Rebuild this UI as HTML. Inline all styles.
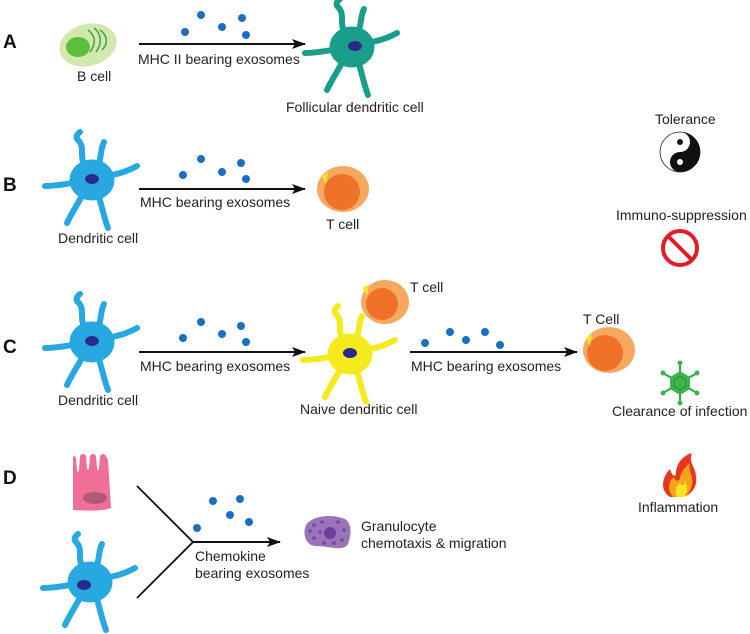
<!DOCTYPE html>
<html><head><meta charset="utf-8"><style>
html,body{margin:0;padding:0;background:#fff}
svg{display:block}
text{font-family:"Liberation Sans",sans-serif;font-size:14px;fill:#222}
.L{font-size:19px;font-weight:bold;fill:#111}
</style></head><body>
<svg width="750" height="634" viewBox="0 0 750 634" xmlns="http://www.w3.org/2000/svg">
<defs>
<marker id="ah" markerWidth="14" markerHeight="10" refX="13" refY="5" orient="auto" markerUnits="userSpaceOnUse"><path d="M0,0 L14,5 L0,10 L3,5 Z" fill="#111"/></marker>
<g id="dc">
<g fill="none" stroke-width="6" stroke-linecap="round" stroke-linejoin="round">
<path d="M-6,-10 C-14,-22 -6,-30 -14,-38 C-18,-42 -12,-46 -12,-46"/>
<path d="M6,-12 C10,-22 8,-28 12,-36"/>
<path d="M14,-2 C26,-4 34,-6 45,-12"/>
<path d="M-14,4 C-26,6 -36,8 -47,8"/>
<path d="M-8,14 C-14,26 -20,34 -25,45"/>
<path d="M6,16 C10,28 12,40 16,50"/>
</g>
<ellipse cx="0" cy="2" rx="22" ry="20"/>
</g>
</defs>

<!-- A -->
<text class="L" x="3" y="48">A</text>
<ellipse cx="88" cy="45" rx="29" ry="21" fill="#d3e8ae" transform="rotate(-15 88 45)"/>
<ellipse cx="78" cy="47" rx="12" ry="10" fill="#5cbf3c"/>
<g fill="none" stroke="#3aa640" stroke-width="1.5">
<path d="M88,30 C96,36 96,44 90,52"/><path d="M94,28 C102,34 102,44 96,52"/><path d="M100,30 C108,36 108,44 102,50"/>
</g>
<text x="77" y="81">B cell</text>
<line x1="139" y1="44" x2="305" y2="44" stroke="#111" stroke-width="2" marker-end="url(#ah)"/>
<g fill="#1a6fc0"><circle cx="201" cy="15" r="4"/><circle cx="185" cy="32" r="4"/><circle cx="222" cy="27" r="4"/><circle cx="242" cy="18" r="4"/><circle cx="246" cy="35" r="4"/></g>
<text x="138" y="64">MHC II bearing exosomes</text>
<use href="#dc" x="352" y="45" fill="#1a9e8c" stroke="#1a9e8c"/>
<ellipse cx="355" cy="46" rx="7" ry="5" fill="#2a2a8c"/>
<text x="286" y="112">Follicular dendritic cell</text>

<!-- B -->
<text class="L" x="3" y="191">B</text>
<use href="#dc" x="92" y="178" fill="#27a8e0" stroke="#27a8e0"/>
<ellipse cx="92" cy="179" rx="7" ry="5" fill="#2a2a8c"/>
<text x="58" y="243">Dendritic cell</text>
<line x1="139" y1="189" x2="305" y2="189" stroke="#111" stroke-width="2" marker-end="url(#ah)"/>
<g fill="#1a6fc0"><circle cx="201" cy="159" r="4"/><circle cx="183" cy="175" r="4"/><circle cx="222" cy="172" r="4"/><circle cx="241" cy="163" r="4"/><circle cx="246" cy="179" r="4"/></g>
<text x="140" y="207">MHC bearing exosomes</text>
<ellipse cx="343" cy="189" rx="26" ry="23" fill="#f6a85f"/>
<circle cx="342" cy="192" r="18" fill="#f07228"/>
<path d="M322,176 L328,172 L326,184 Z" fill="#f8e71c"/>
<text x="326" y="229">T cell</text>

<!-- C -->
<text class="L" x="3" y="353">C</text>
<use href="#dc" x="92" y="340" fill="#27a8e0" stroke="#27a8e0"/>
<ellipse cx="92" cy="341" rx="7" ry="5" fill="#2a2a8c"/>
<text x="58" y="405">Dendritic cell</text>
<line x1="139" y1="352" x2="305" y2="352" stroke="#111" stroke-width="2" marker-end="url(#ah)"/>
<g fill="#1a6fc0"><circle cx="201" cy="322" r="4"/><circle cx="183" cy="338" r="4"/><circle cx="222" cy="334" r="4"/><circle cx="241" cy="326" r="4"/><circle cx="246" cy="342" r="4"/></g>
<text x="140" y="371">MHC bearing exosomes</text>
<use href="#dc" x="350" y="352" fill="#f5ea1b" stroke="#f5ea1b"/>
<ellipse cx="350" cy="353" rx="7" ry="5" fill="#2a2a8c"/>
<text x="300" y="414">Naive dendritic cell</text>
<ellipse cx="385" cy="302" rx="24" ry="22" fill="#f6a85f"/>
<circle cx="382" cy="304" r="16" fill="#f07228"/>
<path d="M363,288 L369,284 L367,296 Z" fill="#f8e71c"/>
<text x="410" y="292">T cell</text>
<line x1="410" y1="352" x2="577" y2="352" stroke="#111" stroke-width="2" marker-end="url(#ah)"/>
<g fill="#1a6fc0"><circle cx="425" cy="343" r="4"/><circle cx="450" cy="332" r="4"/><circle cx="466" cy="340" r="4"/><circle cx="485" cy="332" r="4"/><circle cx="500" cy="345" r="4"/></g>
<text x="411" y="371">MHC bearing exosomes</text>
<ellipse cx="609" cy="350" rx="26" ry="23" fill="#f6a85f"/>
<circle cx="605" cy="353" r="18" fill="#f07228"/>
<path d="M586,338 L592,334 L590,346 Z" fill="#f8e71c"/>
<text x="583" y="324">T Cell</text>

<!-- right column -->
<text x="655" y="124">Tolerance</text>
<g transform="translate(680,152)">
<circle r="20" fill="#fff" stroke="#222" stroke-width="0.8"/>
<path d="M0,-20 A20,20 0 0 1 0,20 A10,10 0 0 1 0,0 A10,10 0 0 0 0,-20 Z" fill="#111"/>
<circle cx="0" cy="-10" r="3" fill="#111"/><circle cx="0" cy="10" r="3" fill="#fff"/>
</g>
<text x="616" y="220">Immuno-suppression</text>
<g transform="translate(680,248)"><circle r="17" fill="none" stroke="#e21d25" stroke-width="4"/><line x1="-12" y1="-12" x2="12" y2="12" stroke="#e21d25" stroke-width="4"/></g>
<g transform="translate(680,383)" stroke="#2aa84a" stroke-width="2" fill="#3cb54a">
<line x1="0" y1="-20" x2="0" y2="20"/><line x1="-17" y1="-10" x2="17" y2="10"/><line x1="-17" y1="10" x2="17" y2="-10"/>
<polygon points="0,-12 10,-6 10,6 0,12 -10,6 -10,-6" stroke="none"/>
<polygon points="0,-7 6,-3.5 6,3.5 0,7 -6,3.5 -6,-3.5" fill="none" stroke="#1d8a3a" stroke-width="1"/>
<g stroke="none" fill="#3cb54a"><circle cx="0" cy="-20" r="2.5"/><circle cx="0" cy="20" r="2.5"/><circle cx="-17" cy="-10" r="2.5"/><circle cx="17" cy="10" r="2.5"/><circle cx="-17" cy="10" r="2.5"/><circle cx="17" cy="-10" r="2.5"/></g>
</g>
<text x="612" y="416">Clearance of infection</text>
<g transform="translate(680,475)">
<path d="M-10,22 C-22,14 -16,0 -10,-6 C-8,2 -4,2 -4,-2 C-4,-12 4,-20 12,-22 C8,-12 16,-8 16,2 C18,12 10,22 0,22 Z" fill="#e8351e"/>
<path d="M-7,22 C-14,14 -10,4 -6,2 C-4,8 0,6 0,2 C2,-6 8,-10 10,-12 C8,-4 14,2 12,10 C10,18 6,22 0,22 Z" fill="#f7a21b"/>
<path d="M-3,22 C-6,16 -3,10 0,8 C2,12 4,10 5,6 C8,12 8,18 4,22 Z" fill="#f8e71c"/>
</g>
<text x="638" y="512">Inflammation</text>

<!-- D -->
<text class="L" x="3" y="484">D</text>
<path d="M73,510 L73,458 Q74,454 76,458 L77,470 Q78,474 79,470 L80,456 Q83,452 86,456 L87,468 Q88,472 89,468 L90,456 Q93,452 96,456 L97,468 Q98,472 99,468 L100,456 Q103,452 106,456 L108,460 L111,508 Q100,512 73,510 Z" fill="#ef6f96"/>
<ellipse cx="95" cy="498" rx="12" ry="6" fill="#b05a78"/>
<use href="#dc" x="90" y="580" fill="#27a8e0" stroke="#27a8e0"/>
<ellipse cx="84" cy="585" rx="7" ry="5" fill="#2a2a8c"/>
<polyline points="137,486 193,542 137,598" fill="none" stroke="#111" stroke-width="1.8"/>
<line x1="193" y1="542" x2="280" y2="542" stroke="#111" stroke-width="2" marker-end="url(#ah)"/>
<g fill="#1a6fc0"><circle cx="197" cy="528" r="4"/><circle cx="213" cy="501" r="4"/><circle cx="240" cy="499" r="4"/><circle cx="230" cy="515" r="4"/><circle cx="249" cy="522" r="4"/></g>
<text x="195" y="561">Chemokine</text>
<text x="195" y="578">bearing exosomes</text>
<path d="M306,525 C312,516 330,514 342,518 C352,520 352,534 348,544 C344,552 328,546 316,546 C306,546 302,534 306,525 Z" fill="#9b74b8"/>
<circle cx="330" cy="533" r="6" fill="#6f3d9c"/>
<g fill="#6f4ba0"><circle cx="314" cy="525" r="1.8"/><circle cx="322" cy="522" r="1.8"/><circle cx="338" cy="522" r="1.8"/><circle cx="344" cy="530" r="1.8"/><circle cx="342" cy="540" r="1.8"/><circle cx="334" cy="543" r="1.8"/><circle cx="324" cy="543" r="1.8"/><circle cx="314" cy="538" r="1.8"/><circle cx="310" cy="531" r="1.8"/><circle cx="320" cy="532" r="1.8"/></g>
<text x="361" y="531">Granulocyte</text>
<text x="361" y="548">chemotaxis &amp; migration</text>
</svg>
</body></html>
